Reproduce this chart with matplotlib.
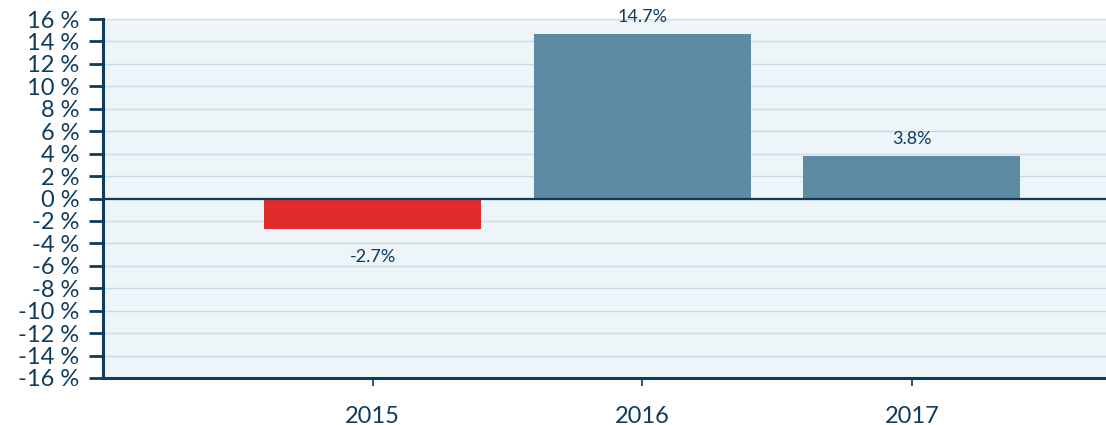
import matplotlib
matplotlib.use('Agg')
from matplotlib import pyplot as plt
import numpy as np

# data
years = ['2015', '2016', '2017']
growth = [-2.7, 14.7, 3.8]
bar_labels = ['-2.7%', '14.7%', '3.8%']
y_ticks = list(range(-16, 17, 2))

navy = '#0f3b5c'
blue = '#5e8ba3'
red = '#e12b2b'

plt.rcParams['font.family'] = ['Lato', 'DejaVu Sans']

fig = plt.figure(figsize=(11.06, 4.25), dpi=100)
ax = fig.add_axes([103 / 1106, 47 / 425, 1003 / 1106, 359 / 425])
ax.set_facecolor('#edf5f9')

x = np.arange(len(years))
colors = [red if v < 0 else blue for v in growth]
bars = ax.bar(x, growth, width=0.805, color=colors, zorder=3)

for b, v, lab in zip(bars, growth, bar_labels):
    cx = b.get_x() + b.get_width() / 2
    if v < 0:
        ax.annotate(lab, (cx, v), xytext=(0, -20), textcoords='offset points',
                    ha='center', va='center', fontsize=13, color=navy)
    else:
        ax.annotate(lab, (cx, v), xytext=(0, 12), textcoords='offset points',
                    ha='center', va='center', fontsize=13, color=navy)

ax.axhline(0, color=navy, lw=1.6, zorder=4)

ax.set_xlim(-1.0, 2.72)
ax.set_ylim(-16, 16)
ax.set_yticks(y_ticks)
ax.set_yticklabels([f'{t} %' for t in y_ticks])
ax.set_xticks(x)
ax.set_xticklabels(years)

ax.yaxis.grid(True, color='#c6d9e7', lw=1, zorder=1)
ax.set_axisbelow(True)

for s in ['top', 'right']:
    ax.spines[s].set_visible(False)
for s in ['left', 'bottom']:
    ax.spines[s].set_color(navy)
    ax.spines[s].set_linewidth(2.2)

ax.tick_params(axis='y', length=10, width=2, color=navy, labelcolor=navy,
               labelsize=17, pad=7)
ax.tick_params(axis='x', length=6, width=1.2, color=navy, labelcolor=navy,
               labelsize=17, pad=14)

fig.savefig('out.png', dpi=100)
